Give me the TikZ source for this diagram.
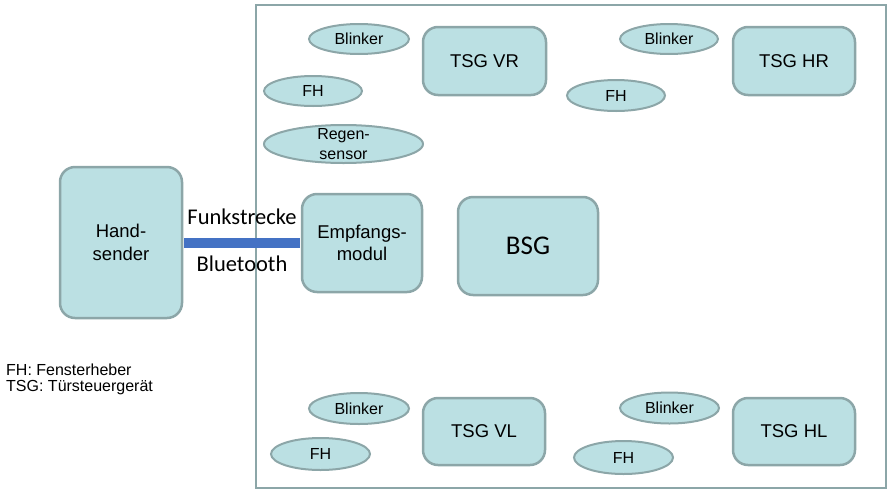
\documentclass[tikz,border=0pt]{standalone}
\usepackage{fontspec}
\setmainfont{Liberation Sans}
\newfontfamily\calibfont{Carlito}
\usetikzlibrary{shapes.geometric}
\definecolor{boxfill}{RGB}{187,224,227}
\definecolor{boxline}{RGB}{140,166,168}
\definecolor{linkblue}{RGB}{68,114,196}
\tikzset{
  box/.style={draw=boxline, fill=boxfill, line width=2.5pt, rounded corners=15pt, inner sep=0pt, align=center, font=\fontsize{18.5}{22.5}\selectfont},
  oval/.style={draw=boxline, fill=boxfill, line width=2pt, ellipse, inner sep=0pt, align=center, font=\fontsize{16}{20}\selectfont},
  ovaltext/.style={inner sep=0pt, align=center, font=\fontsize{16}{20}\selectfont},
  frame/.style={draw=boxline, line width=2pt, inner sep=0pt},
  link/.style={draw=linkblue, line width=10pt},
  linklabel/.style={font=\calibfont\fontsize{22.5}{27}\selectfont, inner sep=0pt},
  legend/.style={anchor=west, inner sep=0pt, font=\fontsize{16}{18}\selectfont}
}
\begin{document}
\begin{tikzpicture}[x=1pt,y=-1pt]
\useasboundingbox (0,0) rectangle (896,493);
\node[frame, minimum width=630pt, minimum height=483pt] (car) at (571,246.5) {};
\node[box, minimum width=122pt, minimum height=151pt] (hs) at (121,242.5) {Hand-\\sender};
\node[box, minimum width=120pt, minimum height=98pt] (em) at (362,243) {Empfangs-\\modul};
\node[box, minimum width=140pt, minimum height=98pt, font=\calibfont\fontsize{27}{32}\selectfont] (bsg) at (528,246) {BSG};
\node[box, minimum width=123pt, minimum height=68pt] (vr) at (484.5,61) {TSG VR};
\node[box, minimum width=122pt, minimum height=68pt] (hr) at (794,61) {TSG HR};
\node[box, minimum width=122pt, minimum height=67pt] (vl) at (484,431.5) {TSG VL};
\node[box, minimum width=122pt, minimum height=67pt] (hl) at (794,431.5) {TSG HL};
\node[oval, minimum width=100pt, minimum height=30pt] (bl1) at (359,39) {Blinker};
\node[oval, minimum width=98pt, minimum height=30pt] (fh1) at (313,91) {FH};
\node[oval, minimum width=159pt, minimum height=38pt] (rs) at (343.5,144) {};
\node[ovaltext] (rst) at (rs.center) {Regen-\\sensor};
\node[oval, minimum width=98pt, minimum height=30pt] (bl2) at (669,39) {Blinker};
\node[oval, minimum width=98pt, minimum height=31pt] (fh2) at (616,95.5) {FH};
\node[oval, minimum width=100pt, minimum height=31pt] (bl3) at (359,408.5) {Blinker};
\node[oval, minimum width=99pt, minimum height=32pt] (fh3) at (320.5,454) {FH};
\node[oval, minimum width=99pt, minimum height=31pt] (bl4) at (669.5,408) {Blinker};
\node[oval, minimum width=99pt, minimum height=33pt] (fh4) at (623.5,457.5) {FH};
\draw[link, shorten <=1.2pt, shorten >=1.2pt] (hs.east) -- (hs.east -| em.west)
  node[linklabel, midway, yshift=26pt] (funk) {Funkstrecke}
  node[linklabel, midway, yshift=-21pt] (bt) {Bluetooth};
\node[legend] (lg1) at (6,370) {FH: Fensterheber};
\node[legend] (lg2) at (6,388) {TSG: Türsteuergerät};
\end{tikzpicture}
\end{document}
